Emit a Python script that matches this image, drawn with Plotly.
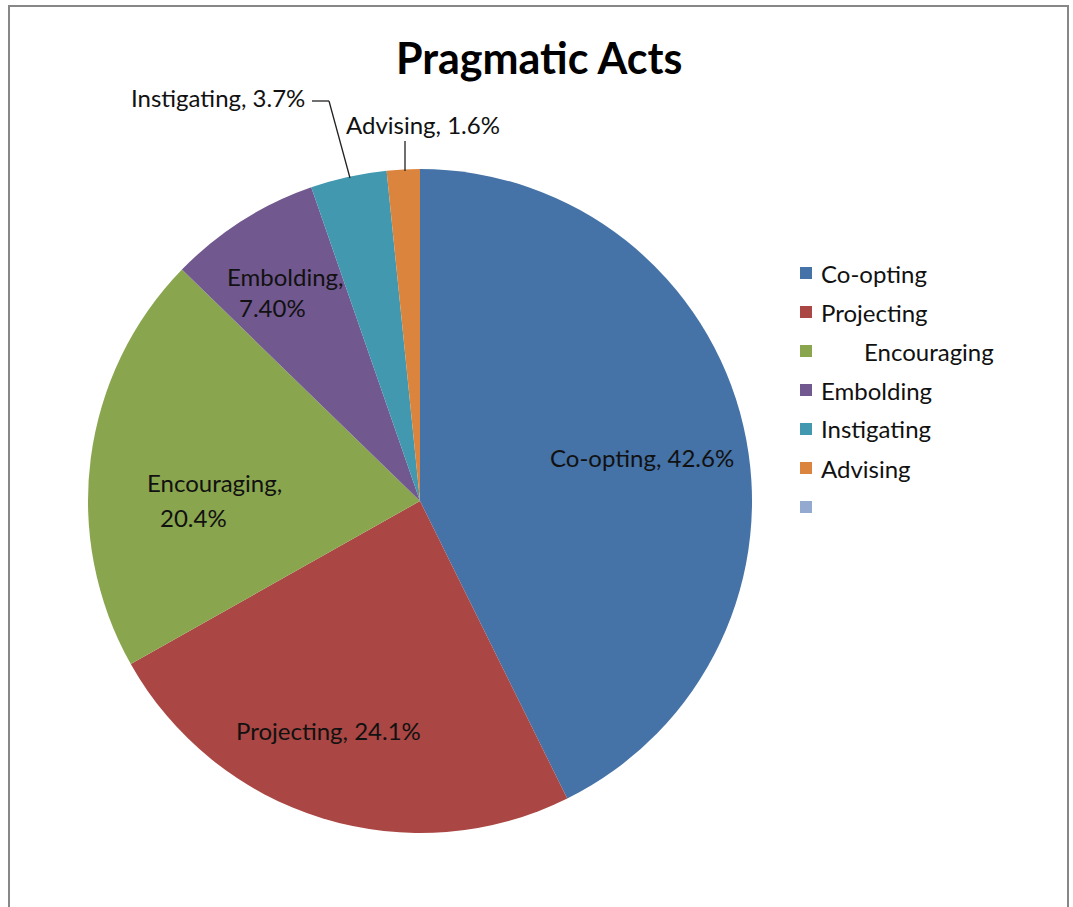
import plotly.graph_objects as go

# Pragmatic act categories and their shares (percent)
categories = ["Co-opting", "Projecting", "Encouraging", "Embolding", "Instigating", "Advising"]
share_labels = ["42.6", "24.1", "20.4", "7.40", "3.7", "1.6"]
shares = [float(s) for s in share_labels]

slice_colors = ["#4572A7", "#AA4643", "#89A54E", "#71588F", "#4198AF", "#DB843D"]

# Legend rows (the last row is an empty series entry)
legend_labels = ["Co-opting", "Projecting", "       Encouraging", "Embolding", "Instigating", "Advising", ""]
legend_colors = slice_colors + ["#93A9CF"]

W, H = 1073, 907
FONT = "Lato"
TXT = "#111111"
LABEL_SIZE = 24


def px(x, y):
    """Pixel position -> paper coordinates."""
    return x / W, 1 - y / H


cx, cy, r = 420, 501, 332
x0, y0 = px(cx - r, cy + r)
x1, y1 = px(cx + r, cy - r)

fig = go.Figure(
    go.Pie(
        labels=categories,
        values=shares,
        sort=False,
        direction="clockwise",
        rotation=0,
        marker=dict(colors=slice_colors, line=dict(width=0)),
        textinfo="none",
        hoverinfo="label+percent",
        showlegend=False,
        domain=dict(x=[x0, x1], y=[y0, y1]),
    )
)

annotations = []
shapes = []


def label(text, x, y, xanchor="center", size=LABEL_SIZE):
    ax, ay = px(x, y)
    annotations.append(dict(
        text=text, x=ax, y=ay, xref="paper", yref="paper",
        xanchor=xanchor, yanchor="middle", showarrow=False,
        font=dict(family=FONT, size=size, color=TXT),
    ))


def seg(xa, ya, xb, yb):
    pa, pb = px(xa, ya), px(xb, yb)
    shapes.append(dict(type="line", xref="paper", yref="paper",
                       x0=pa[0], y0=pa[1], x1=pb[0], y1=pb[1],
                       line=dict(color="#222222", width=1.3)))


lbl = [f"{c}, {s}%" for c, s in zip(categories, share_labels)]

# data labels
label(lbl[0], 642, 457)
label(lbl[1], 328, 730)
label(f"{categories[2]},", 214, 483)
label(f"{share_labels[2]}%", 193, 517)
label(f"{categories[3]},", 285, 276)
label(f"{share_labels[3]}%", 272, 308)
label(lbl[4], 307, 97, xanchor="right")
label(lbl[5], 423, 124)

# leader lines for the two thin slices
seg(312, 101, 329, 101)
seg(329, 101, 350, 178)
seg(405, 141, 405, 171)

# legend drawn as swatches + text
for i, (name, col) in enumerate(zip(legend_labels, legend_colors)):
    yy = 273 + 39 * i
    sx0, sy0 = px(800, yy - 6)
    sx1, sy1 = px(812, yy + 6)
    shapes.append(dict(type="rect", xref="paper", yref="paper",
                       x0=sx0, y0=sy1, x1=sx1, y1=sy0,
                       fillcolor=col, line=dict(width=0)))
    if name:
        label(name, 819, yy, xanchor="left")

# chart frame
fx0, fy0 = px(9, 6)
fx1, fy1 = px(1068, 930)
shapes.append(dict(type="rect", xref="paper", yref="paper",
                   x0=fx0, y0=fy1, x1=fx1, y1=fy0,
                   line=dict(color="#878787", width=2), fillcolor="rgba(0,0,0,0)"))

# title
tx, ty = px(539, 58)
annotations.append(dict(
    text="<b>Pragmatic Acts</b>", x=tx, y=ty, xref="paper", yref="paper",
    xanchor="center", yanchor="middle", showarrow=False,
    font=dict(family=FONT, size=43, color="#000000"),
))

fig.update_layout(
    width=W, height=H,
    margin=dict(l=0, r=0, t=0, b=0),
    paper_bgcolor="white",
    plot_bgcolor="white",
    annotations=annotations,
    shapes=shapes,
)

fig.write_html("out.html")
